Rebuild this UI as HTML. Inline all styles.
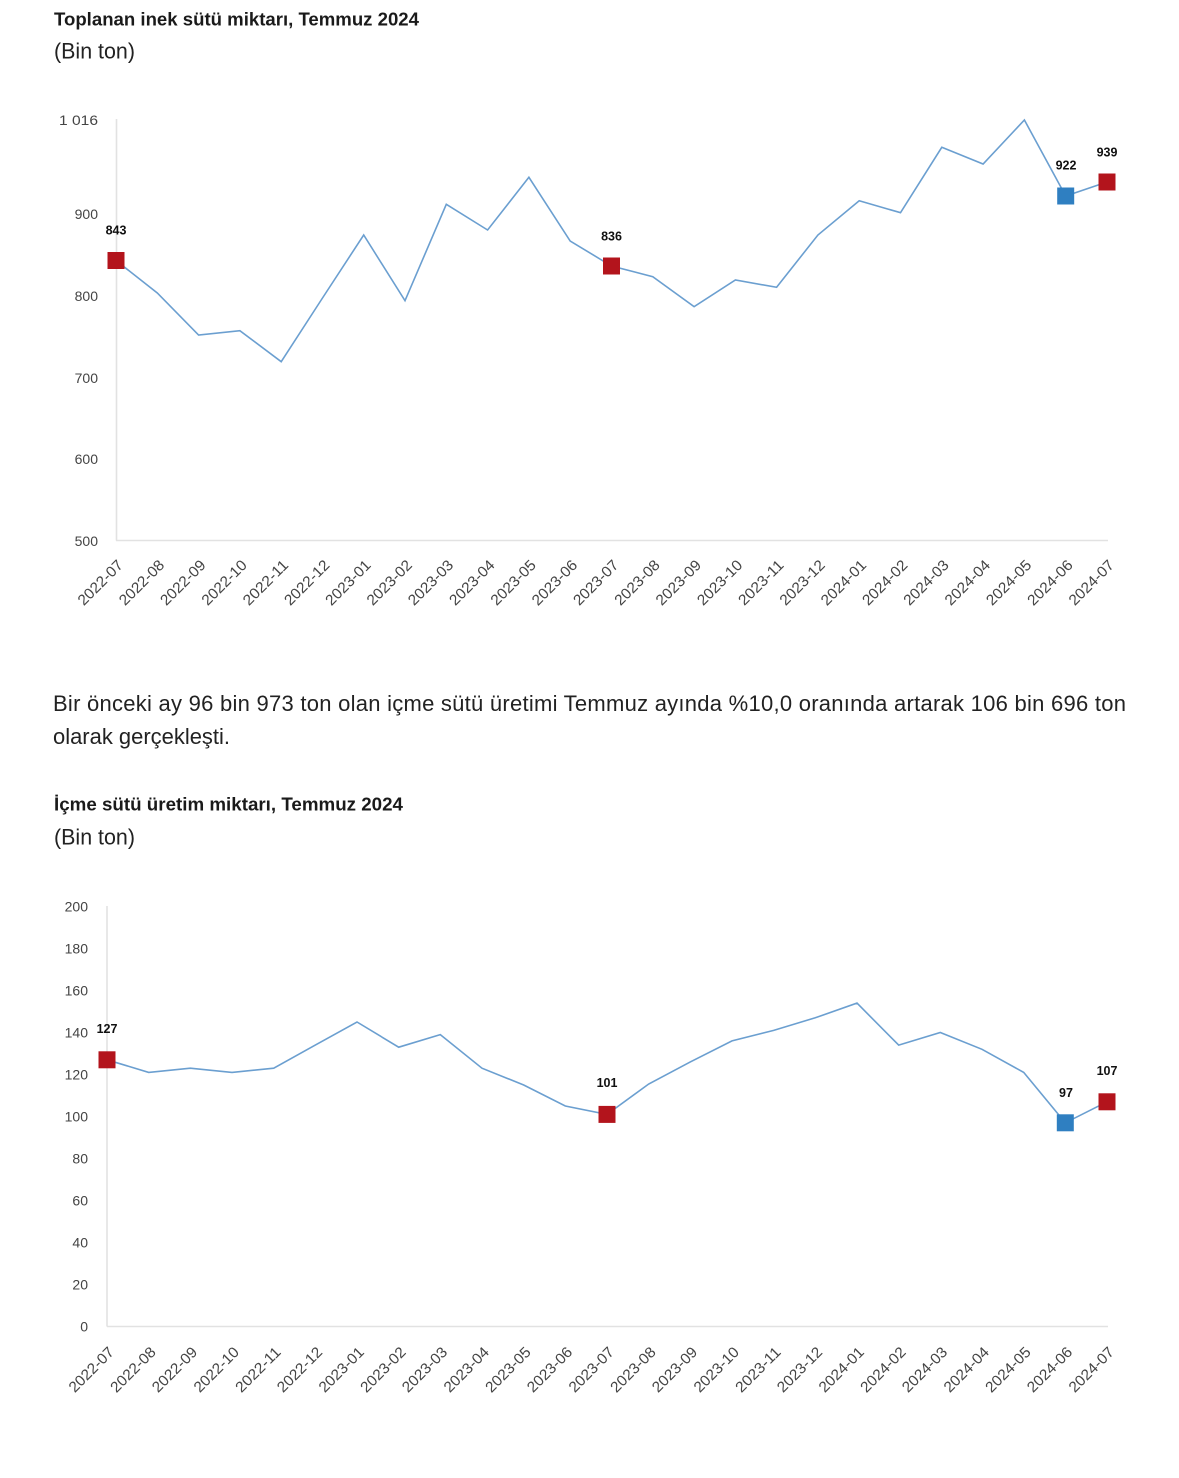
<!DOCTYPE html>
<html>
<head>
<meta charset="utf-8">
<style>
html,body{margin:0;padding:0;background:#fff;}
svg{display:block;}
text{font-family:"Liberation Sans",Arial,Helvetica,sans-serif;}
.t{font-weight:bold;font-size:18px;fill:#1a1a1a;}
.s{font-size:22px;fill:#222;}
.p{font-size:22px;fill:#222;}
.yl{font-size:14px;fill:#444;text-anchor:end;}
.xl{font-size:15px;fill:#444;text-anchor:end;}
.dl{font-size:12.5px;font-weight:bold;fill:#111;text-anchor:middle;}
.ax{stroke:#e2e2e2;stroke-width:1.6;fill:none;}
.ln{stroke:#6b9fd0;stroke-width:1.6;fill:none;stroke-linejoin:miter;}
.r{fill:#b3141c;}
.b{fill:#2f7fc1;}
</style>
</head>
<body>
<svg width="1179" height="1478" viewBox="0 0 1179 1478" xmlns="http://www.w3.org/2000/svg">
<rect x="0" y="0" width="1179" height="1478" fill="#fff"/>

<!-- Chart 1 header -->
<text class="t" x="54" y="25.5" textLength="365" lengthAdjust="spacingAndGlyphs">Toplanan inek sütü miktarı, Temmuz 2024</text>
<text class="s" x="54" y="58.5" textLength="81" lengthAdjust="spacingAndGlyphs">(Bin ton)</text>

<!-- Chart 1 axes -->
<line class="ax" x1="116.5" y1="119" x2="116.5" y2="540.5"/>
<line class="ax" x1="116" y1="540.5" x2="1108" y2="540.5"/>

<!-- Chart 1 y labels -->
<text class="yl" x="98" y="125" textLength="39" lengthAdjust="spacingAndGlyphs">1 016</text>
<text class="yl" x="98" y="219">900</text>
<text class="yl" x="98" y="301">800</text>
<text class="yl" x="98" y="383">700</text>
<text class="yl" x="98" y="464">600</text>
<text class="yl" x="98" y="546">500</text>

<!-- Chart 1 line -->
<polyline class="ln" points="116,260.5 157.3,293 198.6,335 239.9,330.7 281.2,361.7 322.5,298 363.7,235 405,300.7 446.3,204.3 487.6,230 528.9,177.3 570.2,241 611.5,266 652.8,276.7 694.1,306.7 735.4,280 776.6,287.3 817.9,235 859.2,200.7 900.5,212.7 941.8,147.3 983.1,164 1024.4,120 1065.7,196 1107,182"/>

<!-- Chart 1 markers -->
<rect class="r" x="107.5" y="252" width="17" height="17"/>
<rect class="r" x="603" y="257.5" width="17" height="17"/>
<rect class="b" x="1057.2" y="187.5" width="17" height="17"/>
<rect class="r" x="1098.5" y="173.5" width="17" height="17"/>

<!-- Chart 1 data labels -->
<text class="dl" x="116" y="234.5">843</text>
<text class="dl" x="611.5" y="240.5">836</text>
<text class="dl" x="1066" y="169.5">922</text>
<text class="dl" x="1107" y="156.5">939</text>

<!-- Chart 1 x labels -->
<g>
<text class="xl" x="124" y="566" transform="rotate(-45 124 566)" textLength="57" lengthAdjust="spacingAndGlyphs">2022-07</text>
<text class="xl" x="165.3" y="566" transform="rotate(-45 165.3 566)" textLength="57" lengthAdjust="spacingAndGlyphs">2022-08</text>
<text class="xl" x="206.6" y="566" transform="rotate(-45 206.6 566)" textLength="57" lengthAdjust="spacingAndGlyphs">2022-09</text>
<text class="xl" x="247.9" y="566" transform="rotate(-45 247.9 566)" textLength="57" lengthAdjust="spacingAndGlyphs">2022-10</text>
<text class="xl" x="289.2" y="566" transform="rotate(-45 289.2 566)" textLength="57" lengthAdjust="spacingAndGlyphs">2022-11</text>
<text class="xl" x="330.5" y="566" transform="rotate(-45 330.5 566)" textLength="57" lengthAdjust="spacingAndGlyphs">2022-12</text>
<text class="xl" x="371.7" y="566" transform="rotate(-45 371.7 566)" textLength="57" lengthAdjust="spacingAndGlyphs">2023-01</text>
<text class="xl" x="413" y="566" transform="rotate(-45 413 566)" textLength="57" lengthAdjust="spacingAndGlyphs">2023-02</text>
<text class="xl" x="454.3" y="566" transform="rotate(-45 454.3 566)" textLength="57" lengthAdjust="spacingAndGlyphs">2023-03</text>
<text class="xl" x="495.6" y="566" transform="rotate(-45 495.6 566)" textLength="57" lengthAdjust="spacingAndGlyphs">2023-04</text>
<text class="xl" x="536.9" y="566" transform="rotate(-45 536.9 566)" textLength="57" lengthAdjust="spacingAndGlyphs">2023-05</text>
<text class="xl" x="578.2" y="566" transform="rotate(-45 578.2 566)" textLength="57" lengthAdjust="spacingAndGlyphs">2023-06</text>
<text class="xl" x="619.5" y="566" transform="rotate(-45 619.5 566)" textLength="57" lengthAdjust="spacingAndGlyphs">2023-07</text>
<text class="xl" x="660.8" y="566" transform="rotate(-45 660.8 566)" textLength="57" lengthAdjust="spacingAndGlyphs">2023-08</text>
<text class="xl" x="702.1" y="566" transform="rotate(-45 702.1 566)" textLength="57" lengthAdjust="spacingAndGlyphs">2023-09</text>
<text class="xl" x="743.4" y="566" transform="rotate(-45 743.4 566)" textLength="57" lengthAdjust="spacingAndGlyphs">2023-10</text>
<text class="xl" x="784.6" y="566" transform="rotate(-45 784.6 566)" textLength="57" lengthAdjust="spacingAndGlyphs">2023-11</text>
<text class="xl" x="825.9" y="566" transform="rotate(-45 825.9 566)" textLength="57" lengthAdjust="spacingAndGlyphs">2023-12</text>
<text class="xl" x="867.2" y="566" transform="rotate(-45 867.2 566)" textLength="57" lengthAdjust="spacingAndGlyphs">2024-01</text>
<text class="xl" x="908.5" y="566" transform="rotate(-45 908.5 566)" textLength="57" lengthAdjust="spacingAndGlyphs">2024-02</text>
<text class="xl" x="949.8" y="566" transform="rotate(-45 949.8 566)" textLength="57" lengthAdjust="spacingAndGlyphs">2024-03</text>
<text class="xl" x="991.1" y="566" transform="rotate(-45 991.1 566)" textLength="57" lengthAdjust="spacingAndGlyphs">2024-04</text>
<text class="xl" x="1032.4" y="566" transform="rotate(-45 1032.4 566)" textLength="57" lengthAdjust="spacingAndGlyphs">2024-05</text>
<text class="xl" x="1073.7" y="566" transform="rotate(-45 1073.7 566)" textLength="57" lengthAdjust="spacingAndGlyphs">2024-06</text>
<text class="xl" x="1115" y="566" transform="rotate(-45 1115 566)" textLength="57" lengthAdjust="spacingAndGlyphs">2024-07</text>
</g>

<!-- Paragraph -->
<text class="p" x="53" y="711" textLength="1073" lengthAdjust="spacing">Bir önceki ay 96 bin 973 ton olan içme sütü üretimi Temmuz ayında %10,0 oranında artarak 106 bin 696 ton</text>
<text class="p" x="53" y="744" textLength="177" lengthAdjust="spacingAndGlyphs">olarak gerçekleşti.</text>

<!-- Chart 2 header -->
<text class="t" x="54" y="810.5" textLength="349" lengthAdjust="spacingAndGlyphs">İçme sütü üretim miktarı, Temmuz 2024</text>
<text class="s" x="54" y="844.5" textLength="81" lengthAdjust="spacingAndGlyphs">(Bin ton)</text>

<!-- Chart 2 axes -->
<line class="ax" x1="107" y1="906" x2="107" y2="1326.5"/>
<line class="ax" x1="107" y1="1326.5" x2="1108" y2="1326.5"/>

<!-- Chart 2 y labels -->
<text class="yl" x="88" y="911.5">200</text>
<text class="yl" x="88" y="953.5">180</text>
<text class="yl" x="88" y="995.5">160</text>
<text class="yl" x="88" y="1037.5">140</text>
<text class="yl" x="88" y="1079.5">120</text>
<text class="yl" x="88" y="1121.5">100</text>
<text class="yl" x="88" y="1163.5">80</text>
<text class="yl" x="88" y="1205.5">60</text>
<text class="yl" x="88" y="1247.5">40</text>
<text class="yl" x="88" y="1289.5">20</text>
<text class="yl" x="88" y="1331.5">0</text>

<!-- Chart 2 line -->
<polyline class="ln" points="107,1059.8 148.7,1072.4 190.3,1068.2 232,1072.4 273.7,1068.2 315.3,1045.1 357,1022 398.7,1047.2 440.3,1034.6 482,1068.2 523.7,1085 565.3,1106 607,1114.4 648.7,1084 690.3,1061.9 732,1040.9 773.7,1030.4 815.3,1017.8 857,1003.1 898.7,1045.1 940.3,1032.5 982,1049.3 1023.7,1072.4 1065.3,1122.8 1107,1101.8"/>

<!-- Chart 2 markers -->
<rect class="r" x="98.5" y="1051.3" width="17" height="17"/>
<rect class="r" x="598.5" y="1105.9" width="17" height="17"/>
<rect class="b" x="1056.8" y="1114.3" width="17" height="17"/>
<rect class="r" x="1098.5" y="1093.3" width="17" height="17"/>

<!-- Chart 2 data labels -->
<text class="dl" x="107" y="1033">127</text>
<text class="dl" x="607" y="1087">101</text>
<text class="dl" x="1066" y="1097">97</text>
<text class="dl" x="1107" y="1075">107</text>

<!-- Chart 2 x labels -->
<g>
<text class="xl" x="115" y="1353" transform="rotate(-45 115 1353)" textLength="57" lengthAdjust="spacingAndGlyphs">2022-07</text>
<text class="xl" x="156.7" y="1353" transform="rotate(-45 156.7 1353)" textLength="57" lengthAdjust="spacingAndGlyphs">2022-08</text>
<text class="xl" x="198.3" y="1353" transform="rotate(-45 198.3 1353)" textLength="57" lengthAdjust="spacingAndGlyphs">2022-09</text>
<text class="xl" x="240" y="1353" transform="rotate(-45 240 1353)" textLength="57" lengthAdjust="spacingAndGlyphs">2022-10</text>
<text class="xl" x="281.7" y="1353" transform="rotate(-45 281.7 1353)" textLength="57" lengthAdjust="spacingAndGlyphs">2022-11</text>
<text class="xl" x="323.3" y="1353" transform="rotate(-45 323.3 1353)" textLength="57" lengthAdjust="spacingAndGlyphs">2022-12</text>
<text class="xl" x="365" y="1353" transform="rotate(-45 365 1353)" textLength="57" lengthAdjust="spacingAndGlyphs">2023-01</text>
<text class="xl" x="406.7" y="1353" transform="rotate(-45 406.7 1353)" textLength="57" lengthAdjust="spacingAndGlyphs">2023-02</text>
<text class="xl" x="448.3" y="1353" transform="rotate(-45 448.3 1353)" textLength="57" lengthAdjust="spacingAndGlyphs">2023-03</text>
<text class="xl" x="490" y="1353" transform="rotate(-45 490 1353)" textLength="57" lengthAdjust="spacingAndGlyphs">2023-04</text>
<text class="xl" x="531.7" y="1353" transform="rotate(-45 531.7 1353)" textLength="57" lengthAdjust="spacingAndGlyphs">2023-05</text>
<text class="xl" x="573.3" y="1353" transform="rotate(-45 573.3 1353)" textLength="57" lengthAdjust="spacingAndGlyphs">2023-06</text>
<text class="xl" x="615" y="1353" transform="rotate(-45 615 1353)" textLength="57" lengthAdjust="spacingAndGlyphs">2023-07</text>
<text class="xl" x="656.7" y="1353" transform="rotate(-45 656.7 1353)" textLength="57" lengthAdjust="spacingAndGlyphs">2023-08</text>
<text class="xl" x="698.3" y="1353" transform="rotate(-45 698.3 1353)" textLength="57" lengthAdjust="spacingAndGlyphs">2023-09</text>
<text class="xl" x="740" y="1353" transform="rotate(-45 740 1353)" textLength="57" lengthAdjust="spacingAndGlyphs">2023-10</text>
<text class="xl" x="781.7" y="1353" transform="rotate(-45 781.7 1353)" textLength="57" lengthAdjust="spacingAndGlyphs">2023-11</text>
<text class="xl" x="823.3" y="1353" transform="rotate(-45 823.3 1353)" textLength="57" lengthAdjust="spacingAndGlyphs">2023-12</text>
<text class="xl" x="865" y="1353" transform="rotate(-45 865 1353)" textLength="57" lengthAdjust="spacingAndGlyphs">2024-01</text>
<text class="xl" x="906.7" y="1353" transform="rotate(-45 906.7 1353)" textLength="57" lengthAdjust="spacingAndGlyphs">2024-02</text>
<text class="xl" x="948.3" y="1353" transform="rotate(-45 948.3 1353)" textLength="57" lengthAdjust="spacingAndGlyphs">2024-03</text>
<text class="xl" x="990" y="1353" transform="rotate(-45 990 1353)" textLength="57" lengthAdjust="spacingAndGlyphs">2024-04</text>
<text class="xl" x="1031.7" y="1353" transform="rotate(-45 1031.7 1353)" textLength="57" lengthAdjust="spacingAndGlyphs">2024-05</text>
<text class="xl" x="1073.3" y="1353" transform="rotate(-45 1073.3 1353)" textLength="57" lengthAdjust="spacingAndGlyphs">2024-06</text>
<text class="xl" x="1115" y="1353" transform="rotate(-45 1115 1353)" textLength="57" lengthAdjust="spacingAndGlyphs">2024-07</text>
</g>
</svg>
</body>
</html>
